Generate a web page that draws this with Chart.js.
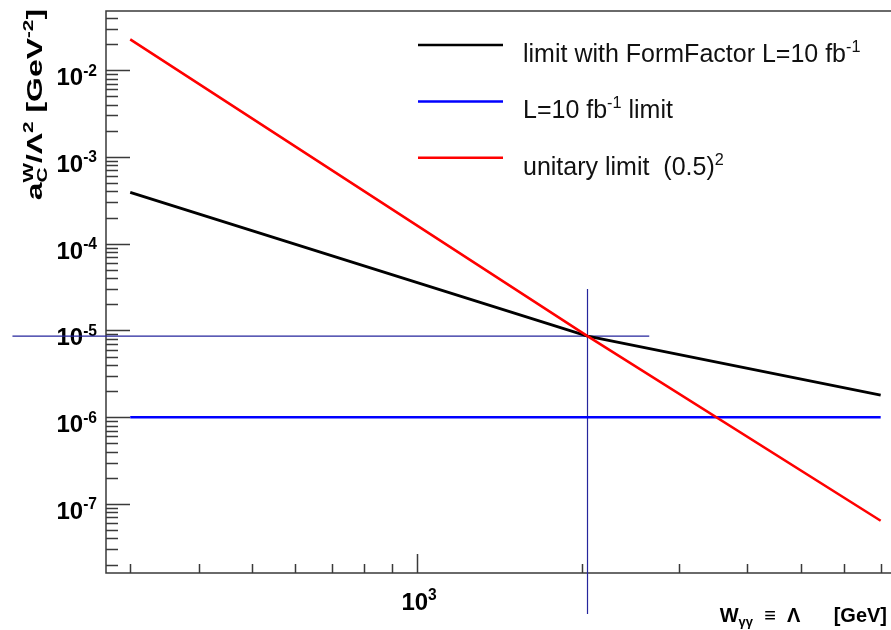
<!DOCTYPE html>
<html>
<head>
<meta charset="utf-8">
<script src="https://cdn.jsdelivr.net/npm/chart.js@4"></script>
<style>
  html, body { margin: 0; padding: 0; background: #fff; overflow: hidden; }
</style>
</head>
<body>
<canvas id="myChart" width="891" height="630"></canvas>
<script>
// values (x in GeV, y in GeV^-2)
const formFactorX = [300, 2045, 7000];
const formFactorY = [3.9e-4, 8.6e-6, 1.8e-6];
const lumiX = [300, 7000];
const lumiY = [1.0e-6, 1.0e-6];
const unitaryX = [300, 2045, 7000];
const unitaryY = [2.26e-2, 8.6e-6, 6.4e-8];
// crossing markers
const crossX = [183, 2650];
const crossY = [8.6e-6, 8.6e-6];
const markX = [2045, 2045];
const markY = [3.0e-5, 5.4e-9];

const xRange = [271, 7310];
const yRange = [1.6e-8, 0.048];
const xTickPowers = [3];
const yTickPowers = [-2, -3, -4, -5, -6, -7];

const legendLabels = [
  "limit with FormFactor L=10 fb^{-1}",
  "L=10 fb^{-1} limit",
  "unitary limit  (0.5)^{2}"
];
const xTitle = "W_{γγ}  ≡  Λ      [GeV]";
const yTitle = "a_{C}^{W}/Λ^{2} [GeV^{-2}]";

const FONT = '"Liberation Sans", Arial, Helvetica, sans-serif';

function pts(xs, ys) {
  return xs.map((x, i) => ({ x: x, y: ys[i] }));
}

// tiny ROOT-like latex: ^{..} and _{..}
function parseLatex(s) {
  const parts = [];
  const re = /([\^_])\{([^}]*)\}/g;
  let last = 0, m;
  while ((m = re.exec(s))) {
    if (m.index > last) parts.push({ t: s.slice(last, m.index), k: 0 });
    parts.push({ t: m[2], k: m[1] === "^" ? 1 : -1 });
    last = re.lastIndex;
  }
  if (last < s.length) parts.push({ t: s.slice(last), k: 0 });
  return parts;
}

function drawLatex(ctx, s, x, y, size, weight, align, color) {
  const parts = parseLatex(s);
  let cx = 0, scriptStart = null, scriptEnd = 0;
  const laid = [];
  parts.forEach(p => {
    const fs = p.k ? size * 0.65 : size;
    ctx.font = weight + " " + fs + "px " + FONT;
    const w = ctx.measureText(p.t).width;
    if (p.k) {
      if (scriptStart !== null) {
        laid.push({ p: p, x: scriptStart, fs: fs });
        scriptEnd = Math.max(scriptEnd, scriptStart + w);
        cx = scriptEnd;
        scriptStart = null;
      } else {
        scriptStart = cx;
        laid.push({ p: p, x: cx, fs: fs });
        scriptEnd = cx + w;
        cx = scriptEnd;
      }
    } else {
      scriptStart = null;
      laid.push({ p: p, x: cx, fs: fs });
      cx += w;
    }
  });
  let x0 = x;
  if (align === "right") x0 = x - cx;
  if (align === "center") x0 = x - cx / 2;
  ctx.fillStyle = color;
  ctx.textAlign = "left";
  ctx.textBaseline = "alphabetic";
  laid.forEach(l => {
    ctx.font = weight + " " + l.fs + "px " + FONT;
    let dy = 0;
    if (l.p.k === 1) dy = -0.4 * size;
    if (l.p.k === -1) dy = 0.22 * size;
    ctx.fillText(l.p.t, x0 + l.x, y + dy);
  });
}

const rootFrame = {
  id: "rootFrame",
  beforeDatasetsDraw(chart) {
    const { ctx, chartArea: a, scales, width } = chart;
    const xs = scales.x, ys = scales.y;
    ctx.save();
    ctx.strokeStyle = "#3a3a3a";
    ctx.lineWidth = 1.5;
    ctx.beginPath();
    ctx.moveTo(width, a.top);
    ctx.lineTo(a.left, a.top);
    ctx.lineTo(a.left, a.bottom);
    ctx.lineTo(width, a.bottom);
    ctx.stroke();

    ctx.beginPath();
    for (let p = -9; p <= 0; p++) {
      for (let m = 1; m <= 9; m++) {
        const v = m * Math.pow(10, p);
        if (v < ys.min || v > ys.max) continue;
        const py = Math.round(ys.getPixelForValue(v)) + 0.5;
        const len = m === 1 ? 24 : 12;
        ctx.moveTo(a.left, py);
        ctx.lineTo(a.left + len, py);
      }
    }
    for (let p = 2; p <= 4; p++) {
      for (let m = 1; m <= 9; m++) {
        const v = m * Math.pow(10, p);
        if (v < xs.min || v > xs.max) continue;
        const px = Math.round(xs.getPixelForValue(v)) + 0.5;
        const len = m === 1 ? 19 : 9;
        ctx.moveTo(px, a.bottom);
        ctx.lineTo(px, a.bottom - len);
      }
    }
    ctx.stroke();

    yTickPowers.forEach(p => {
      const py = ys.getPixelForValue(Math.pow(10, p));
      drawLatex(ctx, "10^{" + p + "}", a.left - 9, py + 15, 24, "bold", "right", "#000");
    });
    xTickPowers.forEach(p => {
      const px = xs.getPixelForValue(Math.pow(10, p));
      drawLatex(ctx, "10^{" + p + "}", px + 2, a.bottom + 37, 24, "bold", "center", "#000");
    });

    drawLatex(ctx, xTitle, 887, 622, 20, "bold", "right", "#000");

    ctx.save();
    ctx.translate(42, 9);
    ctx.rotate(-Math.PI / 2);
    ctx.scale(1.45, 1);
    drawLatex(ctx, yTitle, 0, 0, 22, "bold", "right", "#000");
    ctx.restore();
    ctx.restore();
  },
  afterDraw(chart) {
    const { ctx } = chart;
    ctx.save();
    chart.data.datasets.forEach(d => {
      if (d.legendIndex === undefined) return;
      const i = d.legendIndex;
      const ly = 45 + i * 56.4;
      ctx.strokeStyle = d.borderColor;
      ctx.lineWidth = 2.5;
      ctx.beginPath();
      ctx.moveTo(418, ly);
      ctx.lineTo(503, ly);
      ctx.stroke();
      drawLatex(ctx, legendLabels[i], 523, ly + 17, 25, "normal", "left", "#111");
    });
    ctx.restore();
  }
};

new Chart(document.getElementById("myChart").getContext("2d"), {
  type: "line",
  data: {
    datasets: [
      { data: pts(crossX, crossY), borderColor: "#25259c", borderWidth: 1.2, clip: false, order: 4 },
      { data: pts(markX, markY), borderColor: "#25259c", borderWidth: 1.2, clip: false, order: 3 },
      { data: pts(lumiX, lumiY), borderColor: "#0000ff", borderWidth: 2.5, legendIndex: 1, order: 2 },
      { data: pts(formFactorX, formFactorY), borderColor: "#000000", borderWidth: 2.8, legendIndex: 0, order: 1 },
      { data: pts(unitaryX, unitaryY), borderColor: "#ff0000", borderWidth: 2.5, legendIndex: 2, order: 0 }
    ]
  },
  options: {
    responsive: false,
    animation: false,
    devicePixelRatio: 1,
    layout: { padding: { left: 106, top: 11, right: 0, bottom: 57 } },
    elements: { point: { radius: 0 }, line: { tension: 0, fill: false } },
    plugins: { legend: { display: false }, tooltip: { enabled: false } },
    scales: {
      x: { type: "logarithmic", min: xRange[0], max: xRange[1], display: false },
      y: { type: "logarithmic", min: yRange[0], max: yRange[1], display: false }
    }
  },
  plugins: [rootFrame]
});
</script>
</body>
</html>
